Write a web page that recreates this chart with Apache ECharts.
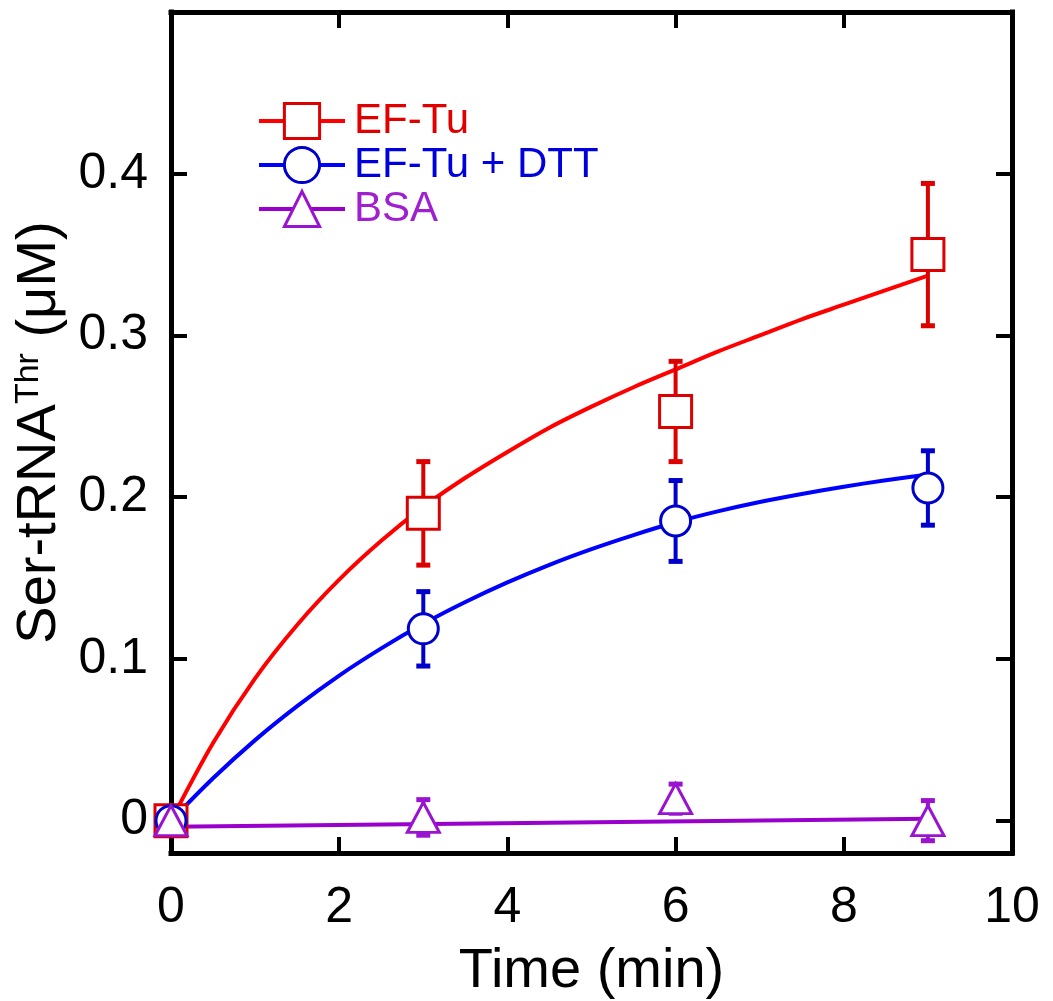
<!DOCTYPE html>
<html>
<head>
<meta charset="utf-8">
<script src="https://cdn.jsdelivr.net/npm/echarts@6/dist/echarts.min.js"></script>
<style>
html, body { margin: 0; padding: 0; background: #fff; }
#chart { width: 1053px; height: 1001px; }
</style>
</head>
<body>
<div id="chart"></div>
<script>
// measured points (time in min, Ser-tRNA in uM)
const seriesNames = ['EF-Tu', 'EF-Tu + DTT', 'BSA'];
const pointTimes = [0, 3, 6, 9];
const efTuValues = [0, 0.190, 0.253, 0.350];
const efTuErrors = [0, 0.032, 0.031, 0.044];
const dttValues = [0, 0.1186, 0.1853, 0.2057];
const dttErrors = [0, 0.023, 0.025, 0.023];
const bsaValues = [0, 0.002, 0.0136, 0.0];
const bsaErrors = [0, 0.011, 0.009, 0.0124];

// fitted curves
const fitTimes = [0, 0.5, 1, 1.5, 2, 2.5, 3, 3.5, 4, 4.5, 5, 5.5, 6, 6.5, 7, 7.5, 8, 8.5, 9];
const efTuFit = [0, 0.048, 0.088, 0.121, 0.149, 0.173, 0.194, 0.212, 0.228, 0.243, 0.256, 0.268, 0.279, 0.290, 0.300, 0.310, 0.319, 0.328, 0.337];
const dttFit = [0, 0.0262, 0.0498, 0.0708, 0.0897, 0.1065, 0.1217, 0.1352, 0.1473, 0.1582, 0.1679, 0.1766, 0.1845, 0.1912, 0.1970, 0.2020, 0.2065, 0.2105, 0.2140];
const bsaFitTimes = [0, 9];
const bsaFit = [-0.0038, 0.0012];

const xTicks = [0, 2, 4, 6, 8, 10];
const yTicks = [0, 0.1, 0.2, 0.3, 0.4];

const FONT = 'Liberation Sans, Arial, sans-serif';
const colors = {
    red: { curve: '#ff0000', mark: '#dd0000', text: '#e00000' },
    blue: { curve: '#0000ff', mark: '#0000cc', text: '#0000dd' },
    purple: { curve: '#9900cc', mark: '#9a14d0', text: '#a020d0' }
};

const pairs = (xs, ys) => xs.map((x, i) => [x, ys[i]]);

// 误差棒
const errorBars = (name, values, errors, color) => ({
    type: 'custom',
    name: name + ' err',
    z: 3,
    clip: false,
    silent: true,
    data: pointTimes.map((t, i) => [t, values[i] - errors[i], values[i] + errors[i]]).filter(d => d[2] > d[1]),
    renderItem: (params, api) => {
        const lo = api.coord([api.value(0), api.value(1)]);
        const hi = api.coord([api.value(0), api.value(2)]);
        const capW = 14, capH = 5;
        return {
            type: 'group',
            children: [
                { type: 'line', shape: { x1: lo[0], y1: lo[1], x2: hi[0], y2: hi[1] }, style: { stroke: color, lineWidth: 4 } },
                { type: 'rect', shape: { x: hi[0] - capW / 2, y: hi[1] - capH / 2, width: capW, height: capH }, style: { fill: color } },
                { type: 'rect', shape: { x: lo[0] - capW / 2, y: lo[1] - capH / 2, width: capW, height: capH }, style: { fill: color } }
            ]
        };
    }
});

const points = (name, values, symbol, size, c) => ({
    type: 'line',
    name: name,
    z: 4,
    clip: false,
    silent: true,
    data: pairs(pointTimes, values),
    symbol: symbol,
    symbolSize: size,
    showSymbol: true,
    lineStyle: { color: c.curve, width: 4, opacity: 0 },
    itemStyle: { color: '#fff', borderColor: c.mark, borderWidth: 3 }
});

const curve = (name, xs, ys, c) => ({
    type: 'line',
    name: name,
    z: 2,
    silent: true,
    smooth: 0.3,
    showSymbol: false,
    data: pairs(xs, ys),
    lineStyle: { color: c.curve, width: 4 }
});

const chart = echarts.init(document.getElementById('chart'));
chart.setOption({
    animation: false,
    backgroundColor: '#fff',
    grid: { left: 171, right: 41, top: 12, bottom: 148, containLabel: false, outerBoundsMode: 'none' },
    legend: {
        orient: 'vertical',
        left: 257,
        top: 100,
        padding: 0,
        itemWidth: 86,
        itemHeight: 44,
        itemGap: 2,
        selectedMode: false,
        lineStyle: { opacity: 1, width: 4 },
        itemStyle: { borderWidth: 3 },
        textStyle: { fontSize: 42, fontFamily: FONT, padding: [0, 0, 0, 4] },
        data: [
            { name: seriesNames[0], textStyle: { color: colors.red.text } },
            { name: seriesNames[1], textStyle: { color: colors.blue.text } },
            { name: seriesNames[2], textStyle: { color: colors.purple.text } }
        ]
    },
    xAxis: [{
        type: 'value', min: 0, max: 10, interval: 2,
        name: 'Time (min)', nameLocation: 'middle', nameGap: 91,
        nameTextStyle: { fontSize: 56, fontFamily: FONT, color: '#000' },
        axisLine: { onZero: false, lineStyle: { color: '#000', width: 5, cap: 'square' } },
        axisTick: { inside: true, length: 16, lineStyle: { color: '#000', width: 4 } },
        axisLabel: { margin: 30, fontSize: 50, fontFamily: FONT, color: '#000' },
        splitLine: { show: false }
    }, {
        type: 'value', min: 0, max: 10, interval: 2, position: 'top',
        axisLine: { onZero: false, lineStyle: { color: '#000', width: 5, cap: 'square' } },
        axisTick: { inside: true, length: 16, lineStyle: { color: '#000', width: 4 } },
        axisLabel: { show: false },
        splitLine: { show: false }
    }],
    yAxis: [{
        type: 'value', min: -0.02, max: 0.5,
        name: '{a|Ser-tRNA}{b|Thr}{a| (μM)}', nameLocation: 'middle', nameGap: 90,
        nameTextStyle: {
            rich: {
                a: { fontSize: 56, fontFamily: FONT, color: '#000' },
                b: { fontSize: 34, fontFamily: FONT, color: '#000', verticalAlign: 'top' }
            }
        },
        axisLine: { onZero: false, lineStyle: { color: '#000', width: 5, cap: 'square' } },
        axisTick: { inside: true, length: 16, customValues: yTicks, lineStyle: { color: '#000', width: 4 } },
        axisLabel: { margin: 23, customValues: yTicks, fontSize: 50, fontFamily: FONT, color: '#000' },
        splitLine: { show: false }
    }, {
        type: 'value', min: -0.02, max: 0.5, position: 'right',
        axisLine: { onZero: false, lineStyle: { color: '#000', width: 5, cap: 'square' } },
        axisTick: { inside: true, length: 16, customValues: yTicks, lineStyle: { color: '#000', width: 4 } },
        axisLabel: { show: false },
        splitLine: { show: false }
    }],
    series: [
        curve('EF-Tu fit', fitTimes, efTuFit, colors.red),
        curve('EF-Tu + DTT fit', fitTimes, dttFit, colors.blue),
        curve('BSA fit', bsaFitTimes, bsaFit, colors.purple),
        errorBars(seriesNames[0], efTuValues, efTuErrors, colors.red.mark),
        errorBars(seriesNames[1], dttValues, dttErrors, colors.blue.mark),
        errorBars(seriesNames[2], bsaValues, bsaErrors, colors.purple.mark),
        points(seriesNames[0], efTuValues, 'rect', 32, colors.red),
        points(seriesNames[1], dttValues, 'circle', 30, colors.blue),
        points(seriesNames[2], bsaValues, 'triangle', [32, 30], colors.purple)
    ]
});
</script>
</body>
</html>
